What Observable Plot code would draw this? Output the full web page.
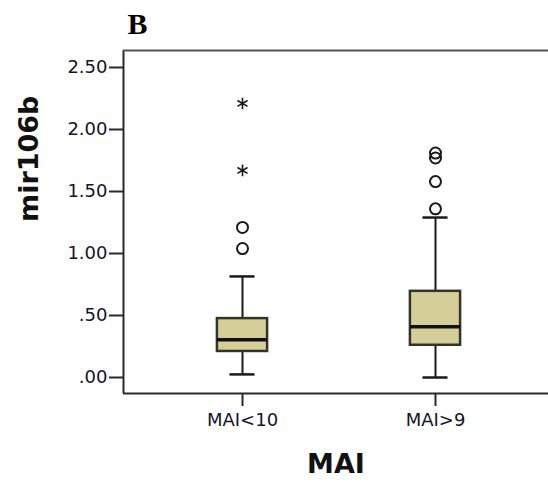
<!DOCTYPE html>
<html>
<head>
<meta charset="utf-8">
<script src="https://cdn.jsdelivr.net/npm/d3@7"></script>
<script src="https://cdn.jsdelivr.net/npm/@observablehq/plot@0.6"></script>
<style>
  html, body { margin: 0; padding: 0; background: #fff; overflow: hidden; }
</style>
</head>
<body>
<div id="chart"></div>
<script>
// ---- data ----
const categories = ["MAI<10", "MAI>9"];
const whiskerLow  = [0.025, 0.00];
const q1          = [0.21, 0.26];
const median      = [0.305, 0.41];
const q3          = [0.475, 0.695];
const whiskerHigh = [0.815, 1.29];
const outlierCat  = [0, 0, 1, 1, 1, 1];
const outlierVal  = [1.04, 1.21, 1.36, 1.58, 1.77, 1.81];
const extremeCat  = [0, 0];
const extremeVal  = [1.67, 2.21];
const yTicks      = [0, 0.5, 1, 1.5, 2, 2.5];
const yTickLabels = [".00", ".50", "1.00", "1.50", "2.00", "2.50"];
const panelLabel  = "B";
const xTitle      = "MAI";
const yTitle      = "mir106b";

// ---- build ----
const idx = categories.map((_, i) => i);
const boxes = idx.map(i => ({i, lo: whiskerLow[i], q1: q1[i], med: median[i], q3: q3[i], hi: whiskerHigh[i]}));
const outliers = outlierCat.map((c, k) => ({i: c, v: outlierVal[k]}));
const extremes = extremeCat.map((c, k) => ({i: c, v: extremeVal[k]}));

const xDomain = [-0.6166, 1.5855];
const yDomain = [-0.129, 2.637];
const boxHalf = 0.13;
const capHalf = 0.065;
const frameColor = "#2a2a2a";
const ink = "#1a1a1a";

const chart = Plot.plot({
  width: 548,
  height: 482,
  marginLeft: 123,
  marginRight: 0,
  marginTop: 50,
  marginBottom: 89,
  style: {fontFamily: "DejaVu Sans", background: "#fff", color: ink},
  x: {type: "linear", domain: xDomain},
  y: {domain: yDomain},
  marks: [
    // frame (left, top, bottom)
    Plot.ruleX([xDomain[0]], {stroke: frameColor, strokeWidth: 2}),
    Plot.ruleY([yDomain[1]], {stroke: "#555", strokeWidth: 2}),
    Plot.ruleY([yDomain[0]], {stroke: frameColor, strokeWidth: 2}),
    // axes
    Plot.axisY({ticks: yTicks, tickFormat: d => yTickLabels[yTicks.indexOf(d)], tickSize: 14, tickPadding: 2, fontSize: 18, label: null, stroke: frameColor, strokeWidth: 2, fill: "#14142a"}),
    Plot.axisX({ticks: idx, tickFormat: i => categories[i], tickSize: 13, tickPadding: 7, fontSize: 18, label: null, stroke: frameColor, strokeWidth: 2, fill: "#14142a"}),
    // whiskers
    Plot.ruleX(boxes, {x: "i", y1: "lo", y2: "hi", stroke: ink, strokeWidth: 2}),
    Plot.ruleY(boxes, {y: "lo", x1: d => d.i - capHalf, x2: d => d.i + capHalf, stroke: ink, strokeWidth: 2.5}),
    Plot.ruleY(boxes, {y: "hi", x1: d => d.i - capHalf, x2: d => d.i + capHalf, stroke: ink, strokeWidth: 2.5}),
    // boxes
    Plot.rect(boxes, {x1: d => d.i - boxHalf, x2: d => d.i + boxHalf, y1: "q1", y2: "q3", fill: "#d4cf98", stroke: "#33332a", strokeWidth: 2.5}),
    Plot.ruleY(boxes, {y: "med", x1: d => d.i - boxHalf, x2: d => d.i + boxHalf, stroke: "#111", strokeWidth: 3.5}),
    // outliers
    Plot.dot(outliers, {x: "i", y: "v", r: 5.5, stroke: ink, strokeWidth: 2, fill: "none"}),
    Plot.dot(extremes, {x: "i", y: "v", r: 5.5, symbol: "asterisk", stroke: ink, strokeWidth: 1.6}),
    // titles
    Plot.text([xTitle], {frameAnchor: "bottom", dy: 71, lineAnchor: "middle", fontSize: 27, fontWeight: "bold", fill: "#111"}),
    Plot.text([yTitle], {frameAnchor: "left", dx: -94, rotate: -90, lineAnchor: "middle", fontSize: 27, fontWeight: "bold", fill: "#111"}),
    Plot.text([panelLabel], {frameAnchor: "top-left", dx: 4, dy: -17, textAnchor: "start", lineAnchor: "bottom", fontFamily: "Liberation Serif", fontSize: 30, fontWeight: "bold", fill: "#000"})
  ]
});
document.getElementById("chart").appendChild(chart);
</script>
</body>
</html>
